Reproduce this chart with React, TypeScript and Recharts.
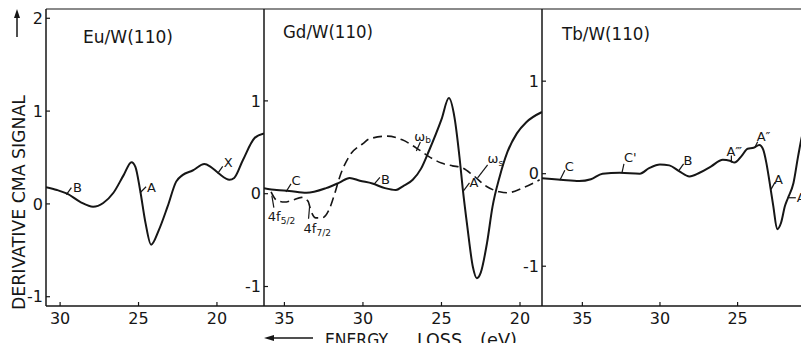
import React from "react";
import { LineChart, Line, XAxis, YAxis, ReferenceDot } from "recharts";

// Energy loss (eV) and derivative CMA signal, one pair of arrays per curve.
const EU_EV = [30.9, 30.2, 29.55, 28.7, 27.9, 27.25, 26.6, 25.95, 25.45, 25.2, 24.9, 24.55, 24.2, 23.7, 23.15, 22.6, 22.2, 21.55, 20.8, 20.4, 19.9, 19.2, 18.9, 18.35, 17.6, 17.0];
const EU_SIG = [0.18, 0.15, 0.11, 0.02, -0.03, 0.01, 0.12, 0.31, 0.45, 0.4, 0.15, -0.21, -0.44, -0.28, -0.03, 0.24, 0.31, 0.36, 0.43, 0.4, 0.33, 0.26, 0.28, 0.47, 0.71, 0.76];

const GD_EV = [36.3, 35.5, 34.7, 33.6, 32.35, 31.5, 30.85, 30.2, 29.4, 28.6, 27.9, 27.46, 26.83, 26.3, 25.8, 25.0, 24.53, 24.17, 23.85, 23.65, 23.35, 23.0, 22.75, 22.5, 22.1, 21.75, 21.3, 20.8, 20.2, 19.6, 18.6];
const GD_SIG = [0.06, 0.04, 0.03, 0.01, 0.06, 0.12, 0.17, 0.14, 0.11, 0.06, 0.04, 0.08, 0.15, 0.27, 0.46, 0.8, 1.03, 0.82, 0.39, 0.06, -0.36, -0.79, -0.91, -0.85, -0.53, -0.14, 0.18, 0.45, 0.65, 0.77, 0.88];

// dashed curve (bulk / surface plasmon trace)
const GD_DASH_EV = [35.85, 35.5, 35.0, 34.5, 33.9, 33.5, 33.3, 33.0, 32.6, 32.15, 31.8, 31.5, 30.85, 30.0, 29.6, 28.45, 27.5, 26.4, 25.8, 25.0, 24.3, 23.7, 23.0, 22.15, 21.3, 20.8, 19.85, 18.75];
const GD_DASH_SIG = [0.02, -0.07, -0.09, -0.07, -0.04, -0.08, -0.19, -0.26, -0.26, -0.17, 0.0, 0.17, 0.41, 0.54, 0.59, 0.62, 0.58, 0.47, 0.4, 0.33, 0.3, 0.28, 0.2, 0.08, 0.02, 0.01, 0.06, 0.15];

const TB_EV = [37.6, 36.4, 35.2, 34.45, 33.7, 32.6, 31.3, 30.7, 30.0, 29.4, 28.75, 28.1, 27.45, 26.7, 25.95, 25.5, 25.2, 24.75, 24.35, 23.97, 23.6, 23.35, 23.15, 22.95, 22.7, 22.45, 22.2, 21.95, 21.75, 21.4, 21.1, 20.8, 20.4];
const TB_SIG = [-0.05, -0.065, -0.08, -0.06, 0.0, 0.01, 0.0, 0.06, 0.1, 0.09, 0.025, -0.03, 0.01, 0.08, 0.15, 0.14, 0.12, 0.19, 0.27, 0.28, 0.31, 0.26, 0.12, -0.08, -0.35, -0.6, -0.53, -0.35, -0.26, -0.1, 0.19, 0.44, 0.55];

const EU_TICKS_X = [30, 25, 20];
const GD_TICKS_X = [35, 30, 25, 20];
const TB_TICKS_X = [35, 30, 25];
const EU_TICKS_Y = [-1, 0, 1, 2];
const GD_TICKS_Y = [-1, 0, 1];
const TB_TICKS_Y = [-1, 0, 1];

type Note = { x: number; y: number; lx: number; ly: number; tx: number; ty: number; text: string; sub?: string };

// peak labels: anchor on the curve, leader offset and text offset in px
const EU_NOTES: Note[] = [
  { x: 29.6, y: 0.1, lx: 5, ly: -7, tx: 6.5, ty: -7.5, text: "B" },
  { x: 24.9, y: 0.12, lx: 6, ly: -6, tx: 7, ty: -5, text: "A" },
  { x: 19.95, y: 0.33, lx: 5, ly: -7, tx: 6, ty: -11, text: "X" },
];
const GD_NOTES: Note[] = [
  { x: 34.9, y: 0.02, lx: 5, ly: -8, tx: 5.5, ty: -11, text: "C" },
  { x: 29.3, y: 0.1, lx: 6, ly: -7, tx: 7, ty: -5, text: "B" },
  { x: 23.6, y: 0.03, lx: 6, ly: -8, tx: 6, ty: -8, text: "A" },
  { x: 26.6, y: 0.46, lx: 4, ly: -9, tx: -2, ty: -15, text: "ω", sub: "b" },
  { x: 22.7, y: 0.17, lx: 10, ly: -13, tx: 10, ty: -19, text: "ω", sub: "s" },
  { x: 35.8, y: -0.02, lx: 2, ly: 12, tx: -4, ty: 21, text: "4f", sub: "5/2" },
  { x: 33.4, y: -0.14, lx: -1, ly: 12, tx: -6, ty: 22, text: "4f", sub: "7/2" },
];
const TB_NOTES: Note[] = [
  { x: 36.45, y: -0.07, lx: 5, ly: -10, tx: 5, ty: -14, text: "C" },
  { x: 32.45, y: 0.01, lx: 2, ly: -9, tx: 2, ty: -15, text: "C'" },
  { x: 28.8, y: 0.03, lx: 5, ly: -7, tx: 5, ty: -10, text: "B" },
  { x: 25.4, y: 0.12, lx: 0, ly: -7, tx: -5, ty: -11, text: "A‴" },
  { x: 23.9, y: 0.28, lx: 3, ly: -6, tx: 2, ty: -11, text: "A″" },
  { x: 22.85, y: -0.17, lx: 4, ly: -7, tx: 3, ty: -10, text: "A" },
  { x: 21.7, y: -0.26, lx: 7, ly: 0, tx: 8, ty: 0, text: "A'" },
];

const zip = (ev: number[], sig: number[]) => ev.map((e, i) => ({ ev: e, sig: sig[i] }));

const INK = "#161616";
const FONT = "'DejaVu Sans', sans-serif";
const tickStyle = { fill: INK, fontSize: 16, fontFamily: FONT };

function noteShape(n: Note) {
  return (p: any) => {
    const { cx, cy } = p;
    return (
      <g>
        <line x1={cx} y1={cy} x2={cx + n.lx} y2={cy + n.ly} stroke={INK} strokeWidth={1.2} />
        <text x={cx + n.tx} y={cy + n.ty} dominantBaseline="central" fontSize={13} fontFamily={FONT} fill={INK}>
          {n.text}
          {n.sub && (
            <tspan fontSize={9} dy={4}>
              {n.sub}
            </tspan>
          )}
        </text>
      </g>
    );
  };
}

type Series = { data: { ev: number; sig: number }[]; dashed?: boolean };

function Panel(props: {
  left: number;
  width: number;
  xDomain: [number, number];
  xTicks: number[];
  yDomain: [number, number];
  yTicks: number[];
  series: Series[];
  notes: Note[];
}) {
  const { left, width, xDomain, xTicks, yDomain, yTicks, series, notes } = props;
  return (
    <div style={{ position: "absolute", left, top: 0 }}>
      <LineChart width={width} height={351} margin={{ top: 9, right: 0, bottom: 0, left: 0 }}>
        <XAxis
          type="number"
          dataKey="ev"
          domain={xDomain}
          reversed
          allowDataOverflow
          ticks={xTicks}
          height={45}
          tickSize={-4}
          tickMargin={11}
          tick={tickStyle}
          axisLine={{ stroke: INK, strokeWidth: 1.6 }}
          tickLine={{ stroke: INK, strokeWidth: 1.2 }}
        />
        <YAxis
          type="number"
          domain={yDomain}
          allowDataOverflow
          ticks={yTicks}
          width={46}
          tickSize={-4}
          tickMargin={7}
          tick={tickStyle}
          axisLine={{ stroke: INK, strokeWidth: 1.5 }}
          tickLine={{ stroke: INK, strokeWidth: 1.2 }}
        />
        {series.map((s, i) => (
          <Line
            key={i}
            data={s.data}
            dataKey="sig"
            type="monotone"
            stroke={INK}
            strokeWidth={s.dashed ? 1.6 : 2}
            strokeDasharray={s.dashed ? "9 5" : undefined}
            dot={false}
            activeDot={false}
            isAnimationActive={false}
          />
        ))}
        {notes.map((n, i) => (
          <ReferenceDot key={i} x={n.x} y={n.y} r={0} shape={noteShape(n)} />
        ))}
      </LineChart>
    </div>
  );
}

export default function App() {
  return (
    <div style={{ position: "relative", width: 809, height: 351, margin: -8, background: "#fff", overflow: "hidden" }}>
      <Panel
        left={0}
        width={264}
        xDomain={[17.0, 30.9]}
        xTicks={EU_TICKS_X}
        yDomain={[-1.1, 2.1]}
        yTicks={EU_TICKS_Y}
        series={[{ data: zip(EU_EV, EU_SIG) }]}
        notes={EU_NOTES}
      />
      <Panel
        left={218}
        width={324}
        xDomain={[18.6, 36.3]}
        xTicks={GD_TICKS_X}
        yDomain={[-1.21, 1.99]}
        yTicks={GD_TICKS_Y}
        series={[{ data: zip(GD_EV, GD_SIG) }, { data: zip(GD_DASH_EV, GD_DASH_SIG), dashed: true }]}
        notes={GD_NOTES}
      />
      <Panel
        left={496}
        width={313}
        xDomain={[20.4, 37.6]}
        xTicks={TB_TICKS_X}
        yDomain={[-1.43, 1.78]}
        yTicks={TB_TICKS_Y}
        series={[{ data: zip(TB_EV, TB_SIG) }]}
        notes={TB_NOTES}
      />
      <svg width={809} height={351} style={{ position: "absolute", left: 0, top: 0, pointerEvents: "none" }}>
        <line x1={46} y1={9} x2={809} y2={9} stroke={INK} strokeWidth={1.2} />
        <text x={83} y={43} fontSize={18} fontFamily={FONT} fill={INK} textLength={90} lengthAdjust="spacingAndGlyphs">
          Eu/W(110)
        </text>
        <text x={283} y={38} fontSize={18} fontFamily={FONT} fill={INK} textLength={90} lengthAdjust="spacingAndGlyphs">
          Gd/W(110)
        </text>
        <text x={562} y={40} fontSize={18} fontFamily={FONT} fill={INK} textLength={88} lengthAdjust="spacingAndGlyphs">
          Tb/W(110)
        </text>
        <line x1={17} y1={37} x2={17} y2={16} stroke={INK} strokeWidth={1.5} />
        <path d="M17 9 L14 18 L20 18 Z" fill={INK} />
        <text
          transform="translate(25 202.5) rotate(-90)"
          textAnchor="middle"
          fontSize={17}
          fontFamily={FONT}
          fill={INK}
          textLength={215}
          lengthAdjust="spacingAndGlyphs"
        >
          DERIVATIVE CMA SIGNAL
        </text>
        <line x1={272} y1={338} x2={313} y2={338} stroke={INK} strokeWidth={1.5} />
        <path d="M264 338 L274 335 L274 341 Z" fill={INK} />
        <text x={325} y={346} fontSize={17} fontFamily={FONT} fill={INK} textLength={63} lengthAdjust="spacingAndGlyphs">
          ENERGY
        </text>
        <text x={417} y={346} fontSize={17} fontFamily={FONT} fill={INK} textLength={45} lengthAdjust="spacingAndGlyphs">
          LOSS
        </text>
        <text x={480} y={346} fontSize={17} fontFamily={FONT} fill={INK} textLength={37} lengthAdjust="spacingAndGlyphs">
          (eV)
        </text>
      </svg>
    </div>
  );
}
